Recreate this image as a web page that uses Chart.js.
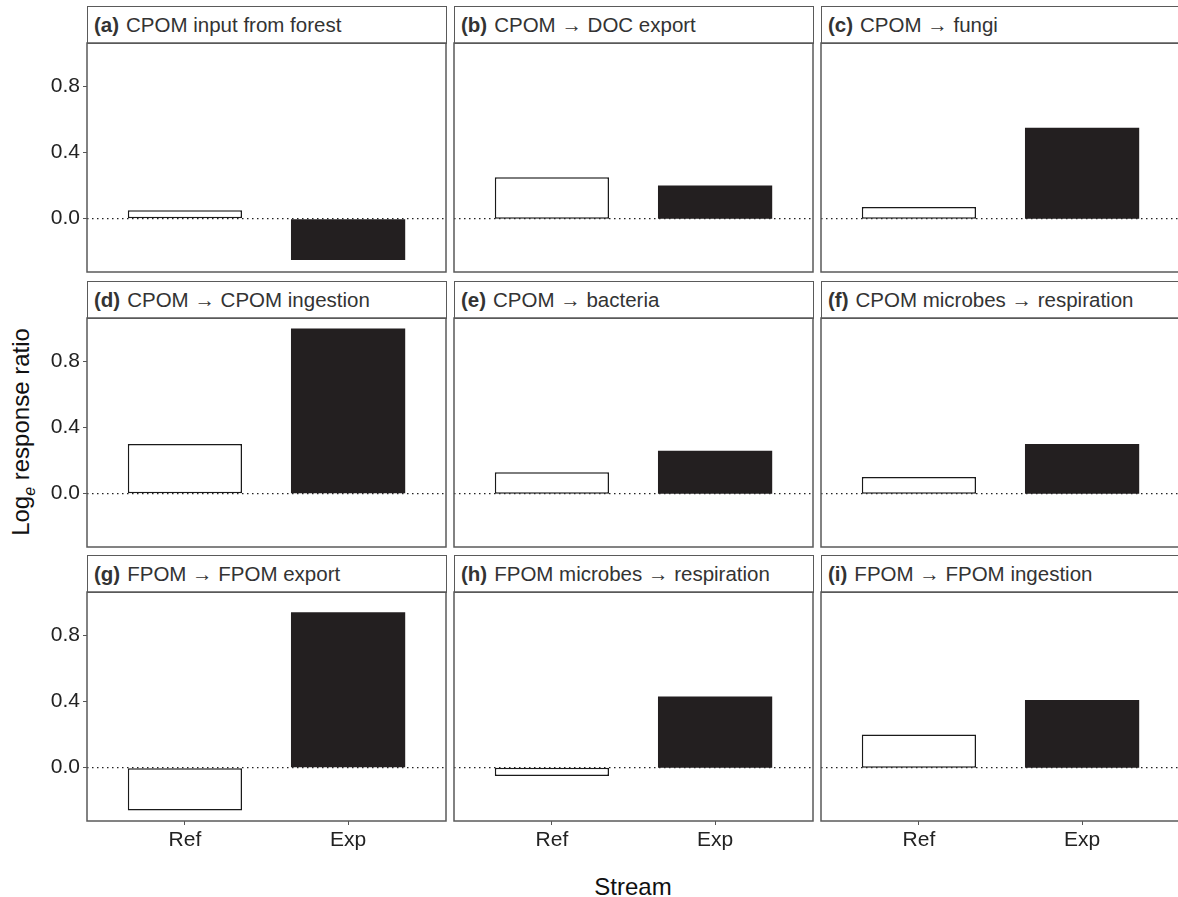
<!DOCTYPE html>
<html lang="en">
<head>
<meta charset="UTF-8">
<title>Log response ratio by stream</title>
<script src="https://cdn.jsdelivr.net/npm/chart.js"></script>
<style>
    body { margin: 0; background: #fff; font-family: 'Liberation Sans', Arial, sans-serif; }
    #figure { position: relative; width: 1178px; height: 897px; overflow: hidden; }
    canvas { position: absolute; }
    .strip {
        position: absolute;
        box-sizing: border-box;
        border: 1.5px solid #5a5a5a;
        background: #fff;
        font-size: 20.5px;
        color: #333;
        padding-left: 6px;
        white-space: nowrap;
        display: flex;
        align-items: center;
    }
    .strip b { margin-right: 7px; }
    .y-title {
        position: absolute;
        font-size: 24px;
        color: #111;
        white-space: nowrap;
        transform: translate(-50%, -50%) rotate(-90deg);
    }
    .y-title sub { font-size: 16px; font-style: italic; }
    .x-title {
        position: absolute;
        font-size: 24px;
        color: #111;
        transform: translate(-50%, -50%);
    }
</style>
</head>
<body>
<div id="figure">
    <div class="y-title" style="left:23px; top:432px;">Log<sub>e</sub> response ratio</div>
    <div class="x-title" style="left:633px; top:887px;">Stream</div>
</div>

<script>
// values
const panelTags = ['(a)', '(b)', '(c)', '(d)', '(e)', '(f)', '(g)', '(h)', '(i)'];
const panelTitles = [
    'CPOM input from forest',
    'CPOM \u2192 DOC export',
    'CPOM \u2192 fungi',
    'CPOM \u2192 CPOM ingestion',
    'CPOM \u2192 bacteria',
    'CPOM microbes \u2192 respiration',
    'FPOM \u2192 FPOM export',
    'FPOM microbes \u2192 respiration',
    'FPOM \u2192 FPOM ingestion'
];
const streams = ['Ref', 'Exp'];
const refValues = [0.05, 0.25, 0.07, 0.30, 0.13, 0.10, -0.26, -0.05, 0.20];
const expValues = [-0.25, 0.20, 0.55, 1.00, 0.26, 0.30, 0.94, 0.43, 0.41];
const yTicks = [0, 0.4, 0.8];
const yMin = -0.323;
const yMax = 1.063;

// facet layout
const colLeft = [87, 454, 821];
const panelTop = [43, 318, 592];
const panelW = 359;
const panelH = 229;
const stripH = 37;
const axisW = 87;
const xAxisH = 50;

const frameAndZero = {
    id: 'frameAndZero',
    afterDatasetsDraw(chart) {
        const { ctx, chartArea: a, scales } = chart;
        const py = scales.y.getPixelForValue(0);
        ctx.save();
        ctx.setLineDash([1.5, 3.5]);
        ctx.lineWidth = 1.4;
        ctx.strokeStyle = '#222';
        ctx.beginPath();
        ctx.moveTo(a.left, py);
        ctx.lineTo(a.right, py);
        ctx.stroke();
        ctx.setLineDash([]);
        ctx.lineWidth = 1.5;
        ctx.strokeStyle = '#5a5a5a';
        ctx.strokeRect(a.left, a.top, a.right - a.left, a.bottom - a.top);
        ctx.restore();
    }
};

const fig = document.getElementById('figure');

panelTitles.forEach((title, i) => {
    const r = Math.floor(i / 3);
    const c = i % 3;
    const bottomRow = r === 2;
    const firstCol = c === 0;

    const strip = document.createElement('div');
    strip.className = 'strip';
    strip.style.left = colLeft[c] + 'px';
    strip.style.top = (panelTop[r] - stripH) + 'px';
    strip.style.width = (panelW + 1) + 'px';
    strip.style.height = (stripH + 1) + 'px';
    strip.innerHTML = '<b>' + panelTags[i] + '</b>' + title;
    fig.appendChild(strip);

    const cv = document.createElement('canvas');
    const w = axisW + panelW + 3;
    const h = 3 + panelH + (bottomRow ? xAxisH : 3);
    cv.width = w;
    cv.height = h;
    cv.style.width = w + 'px';
    cv.style.height = h + 'px';
    cv.style.left = (colLeft[c] - axisW) + 'px';
    cv.style.top = (panelTop[r] - 3) + 'px';
    fig.appendChild(cv);

    new Chart(cv, {
        type: 'bar',
        data: {
            datasets: [{
                data: streams.map((s, k) => ({ x: k + 1, y: k === 0 ? refValues[i] : expValues[i] })),
                backgroundColor: ['#ffffff', '#231f20'],
                borderColor: ['#1a1a1a', '#231f20'],
                borderWidth: [1.5, 0],
                borderSkipped: false,
                barPercentage: 0.7,
                categoryPercentage: 1
            }]
        },
        options: {
            responsive: false,
            animation: false,
            layout: { padding: { left: 0, top: 3, right: 3, bottom: bottomRow ? 0 : 3 } },
            plugins: { legend: { display: false }, tooltip: { enabled: false } },
            scales: {
                x: {
                    type: 'linear',
                    display: bottomRow,
                    min: 0.4,
                    max: 2.6,
                    offset: false,
                    afterBuildTicks: (s) => { s.ticks = streams.map((n, k) => ({ value: k + 1 })); },
                    afterFit: (s) => {
                        s.height = bottomRow ? xAxisH : 0;
                        s.paddingLeft = 0;
                        s.paddingRight = 0;
                    },
                    grid: { offset: false, drawOnChartArea: false, tickLength: 4, color: '#555' },
                    border: { display: false },
                    ticks: {
                        padding: 3,
                        color: '#222',
                        font: { size: 21, family: "'Liberation Sans', Arial, sans-serif" },
                        callback: (v) => streams[v - 1]
                    }
                },
                y: {
                    min: yMin,
                    max: yMax,
                    afterBuildTicks: (s) => { s.ticks = yTicks.map(v => ({ value: v })); },
                    afterFit: (s) => {
                        s.width = axisW;
                        s.paddingTop = 0;
                        s.paddingBottom = 0;
                    },
                    grid: { display: firstCol, drawOnChartArea: false, tickLength: 4, color: '#555' },
                    border: { display: false },
                    ticks: {
                        display: firstCol,
                        padding: 3,
                        color: '#222',
                        font: { size: 21, family: "'Liberation Sans', Arial, sans-serif" },
                        callback: (v) => v.toFixed(1)
                    }
                }
            }
        },
        plugins: [frameAndZero]
    });
});
</script>
</body>
</html>
